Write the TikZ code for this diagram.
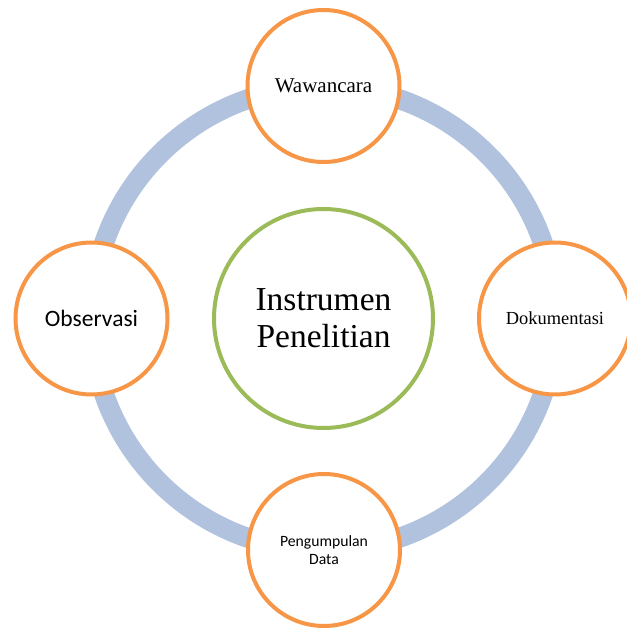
\documentclass[tikz,border=0pt]{standalone}
\usepackage{fontspec}
\setmainfont{Liberation Serif}
\newfontfamily\calibri{Carlito}
\definecolor{ringblue}{HTML}{B0C2DE}
\definecolor{oranye}{HTML}{F79646}
\definecolor{hijau}{HTML}{9BBB59}
\tikzset{
  satelit/.style={circle,draw=oranye,line width=4pt,fill=white,minimum size=152pt,inner sep=0pt,align=center},
  pusat/.style={circle,draw=hijau,line width=4pt,fill=white,minimum size=219pt,inner sep=0pt,align=center},
}
\begin{document}
\begin{tikzpicture}[x=1pt,y=1pt]
\useasboundingbox (0,0) rectangle (627,630);
\clip (0,0) rectangle (627,630);
% cincin penghubung
\draw[ringblue,line width=20pt] (323.5,311.5) circle (232);
\node[pusat] (instrumen) at (323.5,311.5) {};
\node[font=\fontsize{33.5}{37}\selectfont,align=center] (judul) at (instrumen.center) {Instrumen\\Penelitian};
\node[satelit,font=\fontsize{21}{25}\selectfont] (wawancara) at (323.5,544) {Wawancara};
\node[satelit,font=\fontsize{18.4}{22}\selectfont] (dokumentasi) at (555,311.5) {Dokumentasi};
\node[satelit,font=\calibri\fontsize{23.5}{28}\selectfont] (observasi) at (91.5,311.5) {Observasi};
\node[satelit,font=\calibri\fontsize{15.7}{17.5}\selectfont] (pengumpulan) at (324,80) {Pengumpulan\\Data};
\end{tikzpicture}
\end{document}
